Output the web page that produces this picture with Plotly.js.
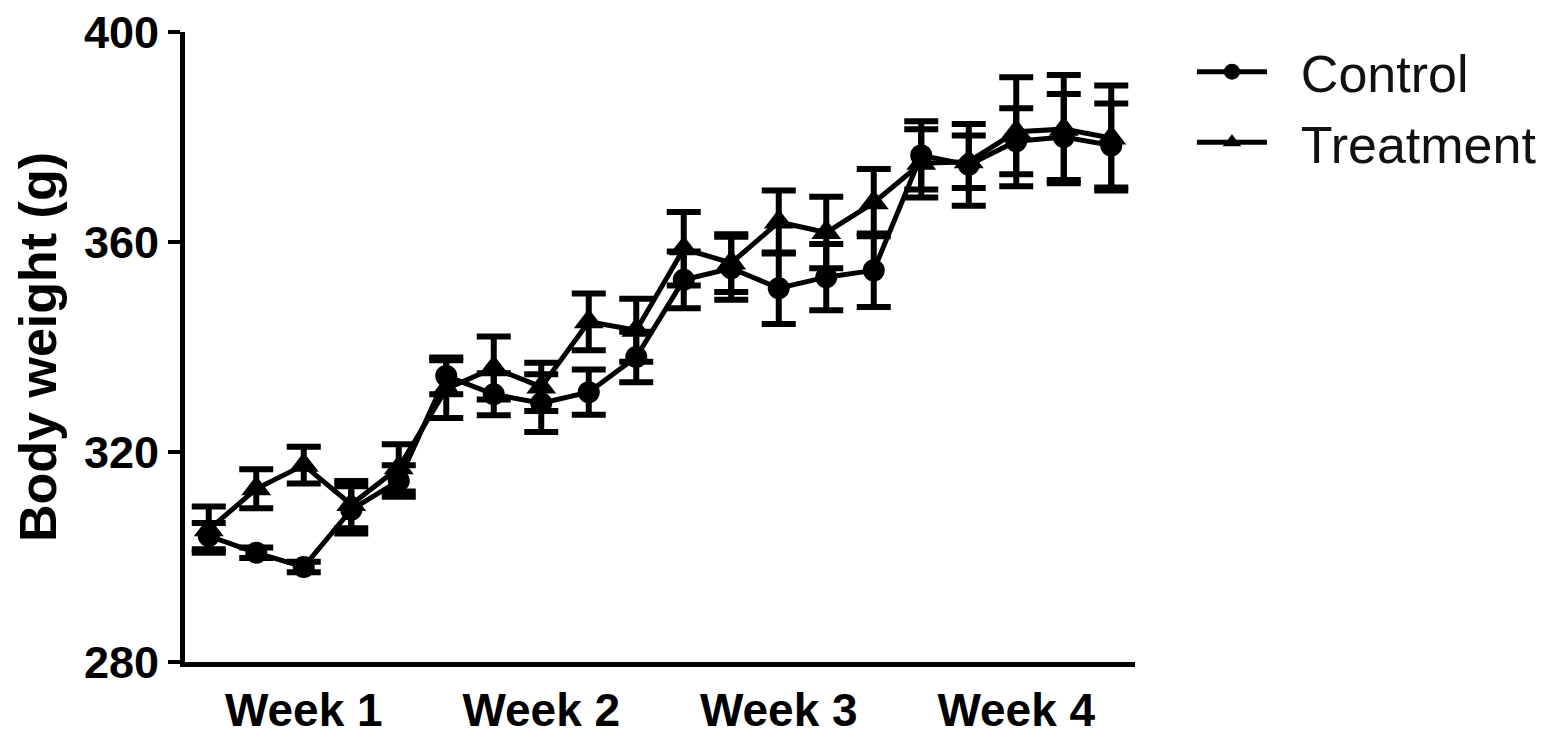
<!DOCTYPE html>
<html>
<head>
<meta charset="utf-8">
<script src="https://cdn.plot.ly/plotly-3.0.1.min.js"></script>
<style>html,body{margin:0;padding:0;background:#fff;}#chart{width:1548px;height:746px;}</style>
</head>
<body>
<div id="chart"></div>
<script>
// Measurement days (5 per week, 4 weeks)
const days = [1,2,3,4,5,6,7,8,9,10,11,12,13,14,15,16,17,18,19,20];
const weekTickDays = [3, 8, 13, 18];
const weekLabels = ["Week 1", "Week 2", "Week 3", "Week 4"];
const seriesNames = ["Control", "Treatment"];

const controlWeight = [304, 300.8, 298.1, 309, 314.5, 334.5, 331, 329.3, 331.4, 338.1,
                       352.8, 355, 351.2, 353.3, 354.6, 376.5, 374.7, 379.2, 380, 378.4];
const controlSEM = [2.5, 1, 1, 4.5, 3, 3.5, 4, 5.5, 4.3, 4.8,
                    5.4, 6, 6.8, 6.3, 7, 6.5, 7.8, 6.3, 8.2, 8];
const treatmentWeight = [305.2, 313, 317.5, 310, 317, 332, 336, 332.4, 344.8, 343.2,
                         358.7, 356, 363.8, 361.8, 367.5, 375, 375.3, 381, 381.5, 379.8];
const treatmentSEM = [4.4, 3.7, 3.5, 4.5, 4.5, 5.5, 6, 4.6, 5.4, 6,
                      7, 5.5, 6, 6.8, 6.4, 6.5, 5, 10.4, 10.3, 10];

const errStyle = {type: 'data', visible: true, color: '#000', thickness: 6, width: 17};
const gap = '\u00a0\u00a0';

const traces = [
  {
    x: days, y: controlWeight, name: gap + seriesNames[0], type: 'scatter', mode: 'lines+markers',
    line: {color: '#000', width: 5},
    marker: {symbol: 'circle', size: 22, color: '#000'},
    error_y: Object.assign({array: controlSEM}, errStyle)
  },
  {
    x: days, y: treatmentWeight, name: gap + seriesNames[1], type: 'scatter', mode: 'lines+markers',
    line: {color: '#000', width: 5},
    marker: {symbol: 'triangle-up', size: 26, color: '#000'},
    error_y: Object.assign({array: treatmentSEM}, errStyle)
  }
];

const layout = {
  width: 1548, height: 746,
  paper_bgcolor: '#fff', plot_bgcolor: '#fff',
  margin: {l: 185, r: 413, t: 32, b: 84, autoexpand: false},
  font: {family: 'Liberation Sans, Arial, sans-serif', color: '#000'},
  showlegend: true,
  legend: {
    xref: 'container', yref: 'container',
    x: 0.77, y: 0.958, xanchor: 'left', yanchor: 'top',
    font: {size: 52, color: '#111'},
    itemwidth: 70, tracegroupgap: 0, bgcolor: 'rgba(0,0,0,0)'
  },
  xaxis: {
    range: [0.5, 20.5], showgrid: false, zeroline: false,
    showline: true, linecolor: '#000', linewidth: 5,
    ticks: '', tickmode: 'array', tickvals: weekTickDays, ticktext: weekLabels,
    tickfont: {size: 46, family: 'Liberation Sans, Arial, sans-serif', weight: 'bold'},
    ticklabelstandoff: 4
  },
  yaxis: {
    range: [280, 400], showgrid: false, zeroline: false,
    showline: true, linecolor: '#000', linewidth: 5,
    ticks: 'outside', ticklen: 12, tickwidth: 4, tickcolor: '#000',
    tickmode: 'array', tickvals: [280, 320, 360, 400],
    tickfont: {size: 45, family: 'Liberation Sans, Arial, sans-serif', weight: 'bold'},
    title: {text: 'Body weight (g)', font: {size: 52, family: 'Liberation Sans, Arial, sans-serif', weight: 'bold'}, standoff: 12}
  }
};

Plotly.newPlot('chart', traces, layout, {displayModeBar: false, staticPlot: true});
</script>
</body>
</html>
